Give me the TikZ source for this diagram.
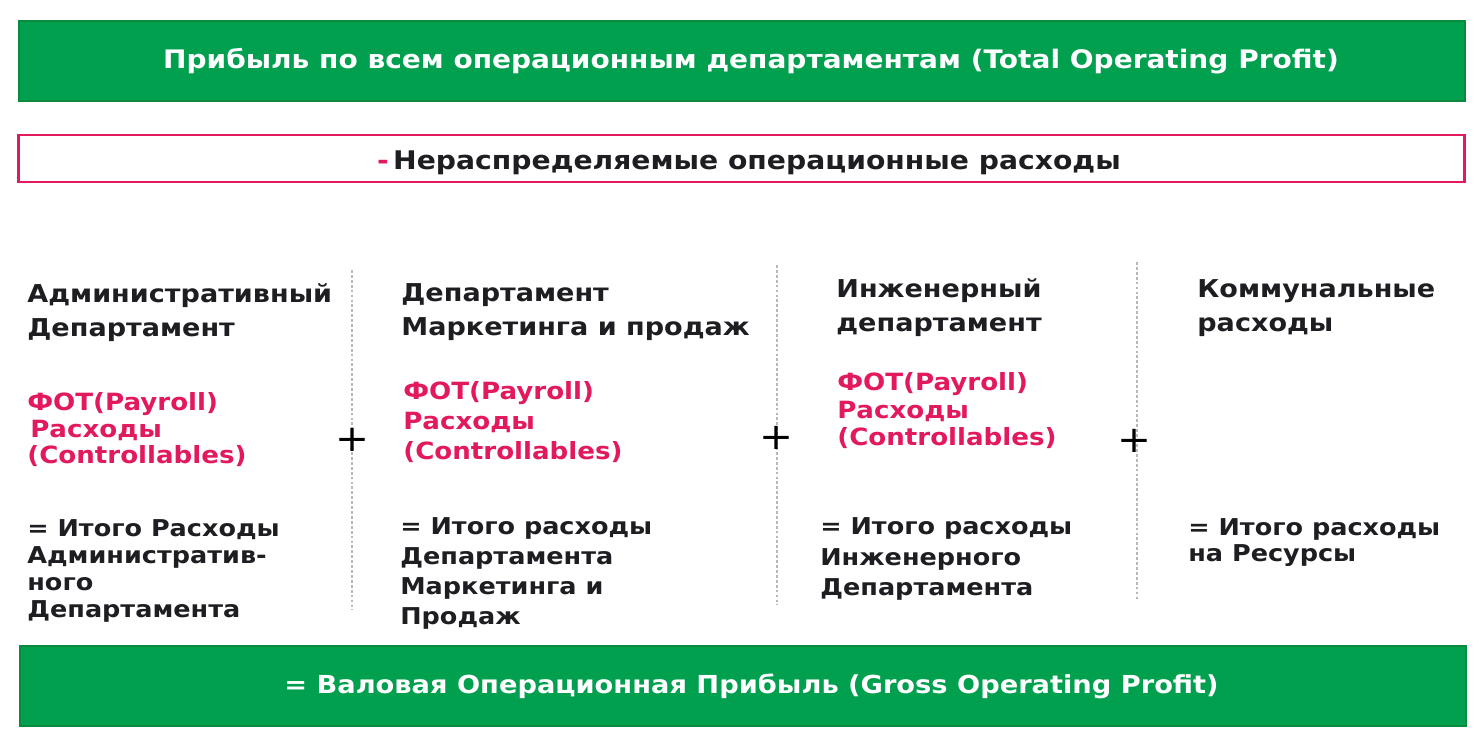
\documentclass[tikz,border=0pt]{standalone}
\usepackage{fontspec}
\setmainfont{DejaVu Sans}[FakeStretch=1.1]
\usetikzlibrary{positioning}

\definecolor{profitgreen}{HTML}{00A04F}
\definecolor{profitedge}{HTML}{0B8A3E}
\definecolor{costpink}{HTML}{E2195E}
\definecolor{textdark}{HTML}{1E1E22}
\definecolor{divgray}{HTML}{B8B8B8}

\tikzset{
	profitbar/.style={draw=profitedge, line width=1.4pt, fill=profitgreen,
		minimum width=28.92cm, minimum height=1.6cm, inner sep=0pt},
	costbox/.style={draw=costpink, line width=1.6pt, fill=white,
		minimum width=28.94cm, minimum height=0.94cm, inner sep=0pt},
	depttitle/.style={anchor=base west, inner sep=0pt, align=left, text=textdark,
		font=\bfseries\fontsize{14}{19.8}\selectfont},
	deptfot/.style={anchor=base west, inner sep=0pt, align=left, text=costpink,
		font=\bfseries\fontsize{13.5}{#1}\selectfont},
	depttotal/.style={anchor=base west, inner sep=0pt, align=left, text=textdark,
		font=\bfseries\fontsize{13.2}{#1}\selectfont},
	plussign/.style={inner sep=0pt, text=black, font=\fontsize{21}{21}\selectfont},
	divline/.style={draw=divgray, line width=0.6pt, dash pattern=on 1.6pt off 1.2pt}
}

\begin{document}
\begin{tikzpicture}[x=0.02cm, y=-0.02cm]
	\useasboundingbox (0,0) rectangle (1484,742);

	% top and bottom totals
	\node[profitbar] (total) at (742,61) {};
	\node[text=white, font=\bfseries\fontsize{14.5}{17}\selectfont] (totaltext) at (751,61) {Прибыль по всем операционным департаментам (Total Operating Profit)};
	\node[costbox] (unalloc) at (741.5,158.5) {};
	\node[text=textdark, font=\bfseries\fontsize{14.6}{16}\selectfont] (unalloctext) at (749,163) {\textcolor{costpink}{-}\,Нераспределяемые операционные расходы};
	\node[profitbar] (gross) at (743,686) {};
	\node[text=white, font=\bfseries\fontsize{14.1}{17}\selectfont] (grosstext) at (751.5,686) {= Валовая Операционная Прибыль (Gross Operating Profit)};

	% administrative department (anchors sit on the last line)
	\node[depttitle] (admtitle) at (27,337) {Административный\\Департамент};
	\node[deptfot=15.3] (admfot) at (27,464) {ФОТ(Payroll)\\\hspace*{1.7pt}Расходы\\(Controllables)};
	\node[depttotal=15.5] (admtotal) at (27,618) {= Итого Расходы\\Административ-\\ного\\Департамента};

	% marketing and sales
	\node[depttitle] (mkttitle) at (401,336) {Департамент\\Маркетинга и продаж};
	\node[deptfot=17.3] (mktfot) at (403,460) {ФОТ(Payroll)\\Расходы\\(Controllables)};
	\node[depttotal=17.2] (mkttotal) at (400,625) {= Итого расходы\\Департамента\\Маркетинга и\\Продаж};

	% engineering
	\node[depttitle] (engtitle) at (836,332) {Инженерный\\департамент};
	\node[deptfot=15.9] (engfot) at (837,446) {ФОТ(Payroll)\\Расходы\\(Controllables)};
	\node[depttotal=17.6] (engtotal) at (820,596) {= Итого расходы\\Инженерного\\Департамента};

	% utilities
	\node[depttitle] (utiltitle) at (1197,332) {Коммунальные\\расходы};
	\node[depttotal=15.3] (utiltotal) at (1188,562) {= Итого расходы\\на Ресурсы};

	% dividers with plus signs
	\coordinate (divAtop) at (352,270); \coordinate (divAbot) at (352,610);
	\coordinate (divBtop) at (777,265); \coordinate (divBbot) at (777,605);
	\coordinate (divCtop) at (1137,262); \coordinate (divCbot) at (1137,600);
	\draw[divline] (divAtop) -- (divAbot);
	\draw[divline] (divBtop) -- (divBbot);
	\draw[divline] (divCtop) -- (divCbot);
	\node[plussign] (plusA) at (352,440) {+};
	\node[plussign] (plusB) at (776,438) {+};
	\node[plussign] (plusC) at (1134,441) {+};
\end{tikzpicture}
\end{document}
